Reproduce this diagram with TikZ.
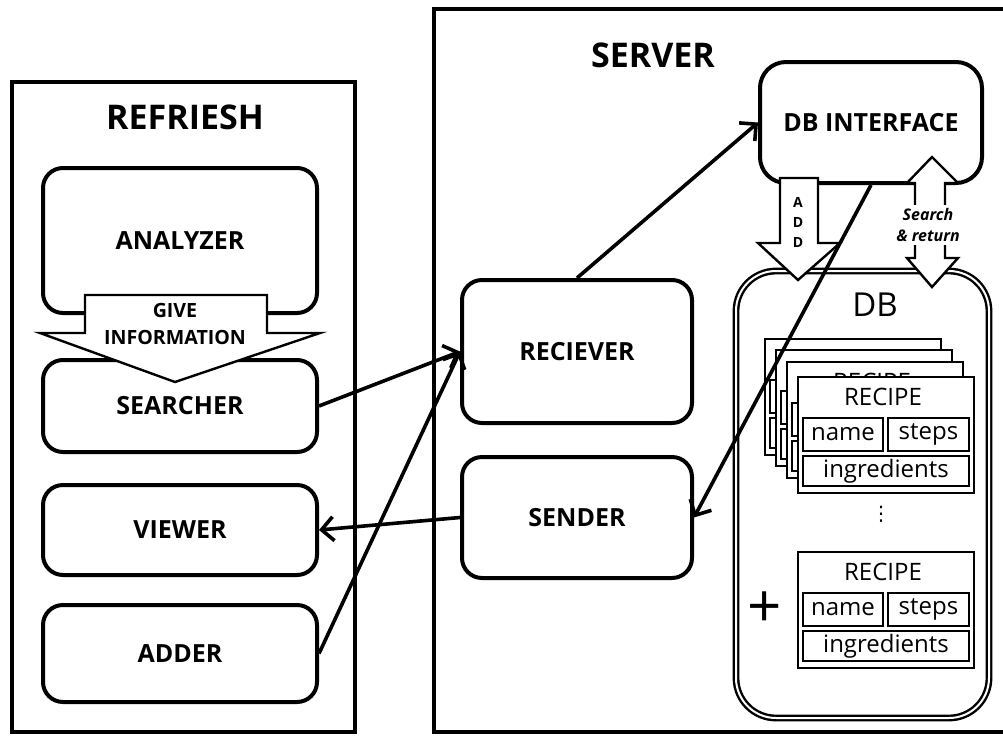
\documentclass[tikz,border=0pt]{standalone}
\usepackage{fontspec}
\setmainfont{Open Sans}
\newfontfamily\dejavu{DejaVu Sans}
\usetikzlibrary{arrows.meta}

\tikzset{
	frame/.style={line width=2.2pt},
	module/.style={draw, line width=2pt, rounded corners=10pt, fill=white, font=\fontsize{12.5}{15}\selectfont\bfseries},
	title/.style={font=\fontsize{17}{20}\selectfont\bfseries},
	card/.style={draw, line width=1.1pt, fill=white, minimum width=88pt, minimum height=58pt},
	field/.style={draw, line width=1.1pt, inner sep=0pt, font=\fontsize{12}{14}\selectfont},
	bigarrow/.style={draw, line width=1.2pt, fill=white, line join=miter},
	flow/.style={line width=1.8pt, -{Straight Barb[length=6pt,width=12pt]}}
}

% one recipe record; #4 = 1 prints its texts
\newcommand{\recipecard}[4]{%
	\node[card] (#1) at (#2+88,#3+58) {};
	\node[field, minimum width=40pt, minimum height=16.5pt] (#1-name) at (#2+45,#3+57.5) {\ifnum#4=1 name\fi};
	\node[field, minimum width=40.5pt, minimum height=16.5pt] (#1-steps) at (#2+130.5,#3+57.5) {\ifnum#4=1 steps\fi};
	\node[field, minimum width=83pt, minimum height=15pt] (#1-ingr) at (#2+88,#3+94) {\ifnum#4=1 ingredients\fi};
}

\begin{document}
\begin{tikzpicture}[x=0.5pt, y=-0.5pt]
	\clip (0,0) rectangle (1003,735);
	\fill[white] (0,0) rectangle (1003,735);
	% client
	\draw[frame] (12,82) rectangle (355,732);
	\node[title] (refresh) at (185,117) {REFRIESH};
	\node[module, minimum width=137pt, minimum height=72.5pt] (analyzer) at (180,240.5) {ANALYZER};
	\node[module, minimum width=137pt, minimum height=46pt] (searcher) at (180,406) {SEARCHER};
	\node[module, minimum width=137pt, minimum height=45pt] (viewer) at (180,530) {VIEWER};
	\node[module, minimum width=137pt, minimum height=48.5pt] (adder) at (180,653.5) {ADDER};
	\draw[bigarrow] (85,295) -- (267,295) -- (267,333) -- (320,333) -- (175,382) -- (40,333) -- (85,333) -- cycle;
	\node[font=\fontsize{9.8}{13.5}\selectfont\bfseries, align=center] (giveinfo) at (175,323.5) {GIVE\\INFORMATION};
	% server
	\draw[frame] (434,9) rectangle (1010,732);
	\node[title] (server) at (653,55) {SERVER};
	\node[module, minimum width=115pt, minimum height=71.5pt] (reciever) at (577,351.5) {RECIEVER};
	\node[module, minimum width=115pt, minimum height=60.5pt] (sender) at (577,517.5) {SENDER};
	\node[module, rounded corners=13pt, minimum width=111pt, minimum height=60.5pt] (dbi) at (871,122.5) {DB INTERFACE};
	\node[draw, double, double distance=1pt, line width=1.2pt, rounded corners=20pt, minimum width=126.5pt, minimum height=223.5pt] (db) at (862.5,494.5) {};
	\node[font=\fontsize{16.5}{18}\selectfont] (dblabel) at (875,305) {DB};
	\recipecard{cardA}{765}{339}{0}
	\recipecard{cardB}{776}{350}{0}
	\recipecard{cardC}{787}{362}{0}
	\node[font=\fontsize{12}{14}\selectfont] (cardC-title) at (872,382) {RECIPE};
	\recipecard{cardD}{798}{377}{1}
	\node[font=\fontsize{12}{14}\selectfont] (cardD-title) at (883,397) {RECIPE};
	\node[font=\dejavu\fontsize{10}{10}\selectfont] (dots) at (881,514) {⋮};
	\node[font=\fontsize{30}{30}\selectfont] (plus) at (765,610) {+};
	\recipecard{cardE}{798}{552}{1}
	\node[font=\fontsize{12}{14}\selectfont] (cardE-title) at (883,572) {RECIPE};
	\draw[bigarrow] (780,178) -- (818,178) -- (818,243) -- (840,243) -- (798,280) -- (758,243) -- (780,243) -- cycle;
	\node[font=\fontsize{7}{10}\selectfont\bfseries, align=center] (addlabel) at (798,222) {A\\D\\D};
	\draw[bigarrow] (932,157) -- (958,183) -- (945,183) -- (945,258) -- (958,258) -- (932,287) -- (907,258) -- (915,258) -- (915,183) -- (907,183) -- cycle;
	\node[fill=white, inner sep=1.5pt, align=center, font=\fontsize{8}{10.5}\selectfont\bfseries\itshape] (searchlabel) at (928,225) {Search\\\& return};
	% connectors
	\draw[flow] (searcher.east) -- (reciever.west);
	\draw[flow] (adder.east) -- (reciever.west);
	\draw[flow] (sender.west) -- (viewer.east);
	\draw[flow] (reciever.north) -- (dbi.west);
	\draw[flow] (dbi.south) -- (sender.east);
\end{tikzpicture}
\end{document}
